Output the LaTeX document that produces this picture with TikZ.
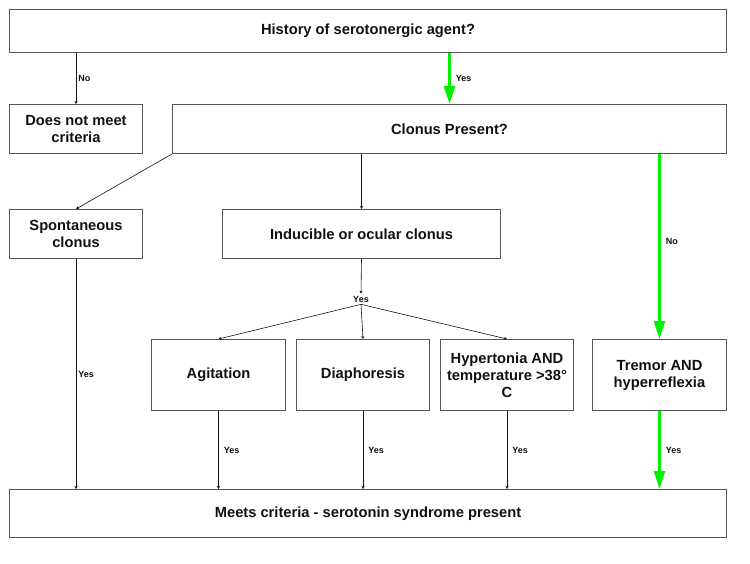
\documentclass[tikz,border=0pt]{standalone}
\usepackage{fontspec}
\usepackage{xcolor}
\usepackage{tikz}
\usetikzlibrary{arrows.meta,positioning}
\newfontfamily\chartfont{Liberation Sans}
\definecolor{cGo}{HTML}{00F000}
\definecolor{cEdge}{HTML}{555555}
\definecolor{cInk}{HTML}{111111}
\tikzset{
  box/.style    = {draw=cEdge, line width=1pt, align=center, anchor=north west,
                   inner sep=2pt, font=\chartfont\bfseries\fontsize{14.7}{17}\selectfont,
                   text=cInk},
  flow/.style   = {-{Stealth[length=3pt,width=3pt]}, draw=cInk, line width=0.6pt},
  goflow/.style = {-{Triangle[length=18pt,width=11pt]}, draw=cGo, line width=2.5pt},
  lab/.style    = {font=\chartfont\bfseries\fontsize{9}{10}\selectfont, text=cInk,
                   inner sep=2pt},
}
\begin{document}
\begin{tikzpicture}[x=1pt, y=-1pt]
  \useasboundingbox (0,0) rectangle (750,563);
  % ---- question boxes ----
  \node[box, minimum width=717, minimum height=43] (hist) at (9,9)
    {History of serotonergic agent?};
  \node[box, minimum width=133, minimum height=49] (nomeet) at (9,104)
    {Does not meet\\criteria};
  \node[box, minimum width=554, minimum height=49] (clonus) at (172,104)
    {Clonus Present?};
  % ---- clonus kinds ----
  \node[box, minimum width=133, minimum height=49] (spont) at (9,209)
    {Spontaneous\\clonus};
  \node[box, minimum width=278, minimum height=49] (induc) at (222,209)
    {Inducible or ocular clonus};
  \node[lab] (yesfork) at (361,299) {Yes};
  % ---- findings ----
  \node[box, minimum width=134, minimum height=71] (agit) at (151,339)
    {Agitation};
  \node[box, minimum width=133, minimum height=71] (diaph) at (296,339)
    {Diaphoresis};
  \node[box, minimum width=133, minimum height=71] (hypert) at (440,339)
    {Hypertonia AND\\temperature >38°\\C};
  \node[box, minimum width=134, minimum height=71] (tremor) at (592,339)
    {Tremor AND\\hyperreflexia};
  \node[box, minimum width=717, minimum height=48] (meets) at (9,489)
    {Meets criteria - serotonin syndrome present};
  % ---- connectors ----
  \draw[flow] (hist.south -| nomeet.north) -- node[lab, right] {No} (nomeet.north);
  \draw[goflow] (hist.south -| clonus.north) -- node[lab, right=3pt] {Yes} (clonus.north);
  \draw[flow] (clonus.south west) -- (spont.north);
  \draw[flow] (clonus.south -| induc.north) -- (induc.north);
  \draw[goflow] (clonus.south -| tremor.north) -- node[lab, right=3pt, pos=0.47] {No} (tremor.north);
  \draw[flow] (induc.south) -- (yesfork.north);
  \draw[flow] (yesfork.south) -- (agit.north);
  \draw[flow] (yesfork.south) -- (diaph.north);
  \draw[flow] (yesfork.south) -- (hypert.north);
  \draw[flow] (spont.south) -- node[lab, right] {Yes} (spont.south |- meets.north);
  \draw[flow] (agit.south) -- node[lab, right=3pt] {Yes} (agit.south |- meets.north);
  \draw[flow] (diaph.south) -- node[lab, right=3pt] {Yes} (diaph.south |- meets.north);
  \draw[flow] (hypert.south) -- node[lab, right=3pt] {Yes} (hypert.south |- meets.north);
  \draw[goflow] (tremor.south) -- node[lab, right=3pt] {Yes} (tremor.south |- meets.north);
\end{tikzpicture}
\end{document}
